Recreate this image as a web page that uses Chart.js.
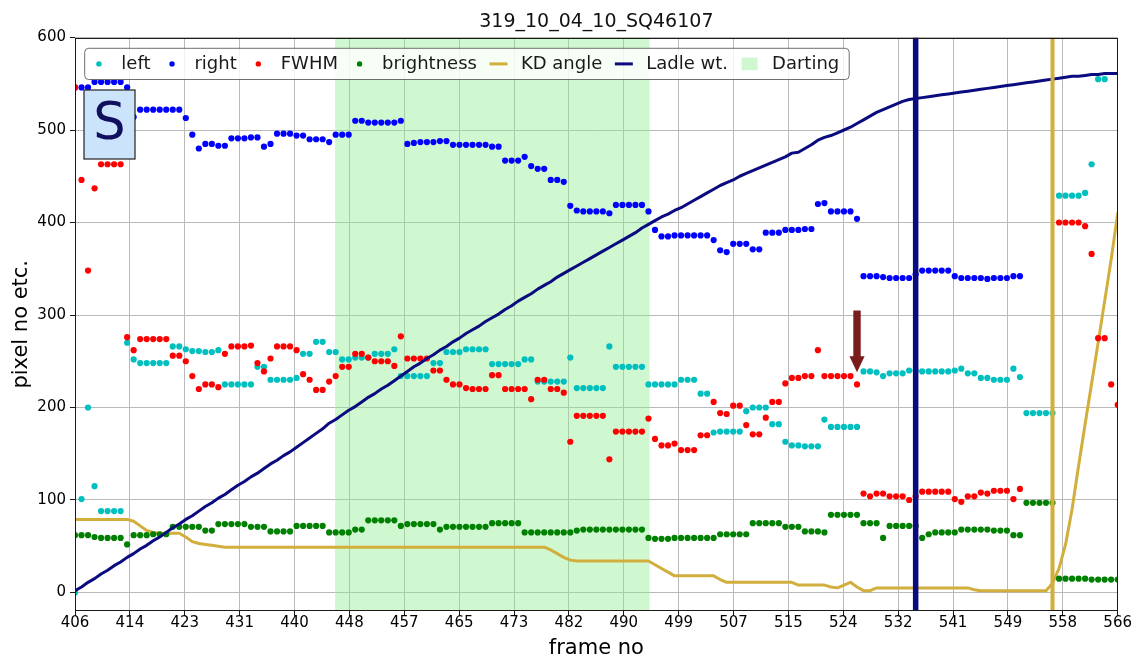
<!DOCTYPE html>
<html>
<head>
<meta charset="utf-8">
<script src="https://cdn.jsdelivr.net/npm/chart.js@4.4.1/dist/chart.umd.min.js"></script>
<style>
  html, body { margin: 0; padding: 0; background: #ffffff; }
  #wrap { width: 1132px; height: 657px; }
</style>
</head>
<body>
<div id="wrap"><canvas id="chart" width="1132" height="657"></canvas></div>
<script>
// ---- frame axis ----
const FIRST_FRAME = 406;
const LAST_FRAME = 566;
const frames = Array.from({ length: LAST_FRAME - FIRST_FRAME + 1 }, (_, i) => FIRST_FRAME + i);
const xTickLabels = [406, 414, 423, 431, 440, 448, 457, 465, 473, 482, 490, 499, 507, 515, 524, 532, 541, 549, 558, 566];
const yTickValues = [0, 100, 200, 300, 400, 500, 600];
const chartTitle = '319_10_04_10_SQ46107';

// ---- per-frame series (one value per frame, 406..566; null = no reading) ----
const leftEdge = [
  0, 101, 200, 115, 88, 88, 88, 88, 270, 252,            // 406
  248, 248, 248, 248, 248, 266, 266, 263, 261, 261,      // 416
  260, 260, 262, 225, 225, 225, 225, 225, 244, 244,      // 426
  230, 230, 230, 230, 232, 258, 258, 271, 271, 260,      // 436
  260, 252, 252, 254, 254, 254, 258, 258, 258, 263,      // 446
  234, 234, 234, 234, 234, 248, 248, 260, 260, 260,      // 456
  263, 263, 263, 263, 247, 247, 247, 247, 247, 252,      // 466
  252, 228, 228, 228, 228, 228, 254, 221, 221, 221,      // 476
  221, 221, 266, 244, 244, 244, 244, 244, 225, 225,      // 486
  225, 225, 225, 230, 230, 230, 215, 215, 173, 174,      // 496
  174, 174, 174, 196, 200, 200, 200, 182, 182, 163,      // 506
  159, 159, 158, 158, 158, 187, 179, 179, 179, 179,      // 516
  179, 239, 239, 238, 234, 237, 237, 237, 240, 240,      // 526
  239, 239, 239, 239, 239, 240, 242, 237, 237, 232,      // 536
  232, 230, 230, 230, 242, 233, 194, 194, 194, 194,      // 546
  194, 429, 429, 429, 429, 432, 463, 555, 555, null,     // 556
  null                                                   // 566
];
const rightEdge = [
  546, 546, 546, 552, 552, 552, 552, 552, 546, 514,
  522, 522, 522, 522, 522, 522, 522, 513, 495, 480,
  485, 485, 483, 483, 491, 491, 491, 492, 492, 482,
  485, 496, 496, 496, 494, 494, 490, 490, 490, 487,
  495, 495, 495, 510, 510, 508, 508, 508, 508, 508,
  510, 485, 486, 487, 487, 487, 488, 488, 484, 484,
  484, 484, 484, 484, 482, 482, 467, 467, 467, 471,
  461, 458, 458, 446, 446, 444, 418, 413, 412, 412,
  412, 412, 410, 419, 419, 419, 419, 419, 412, 392,
  385, 385, 386, 386, 386, 386, 386, 386, 381, 370,
  368, 377, 377, 377, 371, 371, 389, 389, 389, 392,
  392, 392, 393, 393, 420, 421, 412, 412, 412, 412,
  404, 342, 342, 342, 341, 340, 340, 340, 340, 344,
  348, 348, 348, 348, 348, 342, 340, 340, 340, 340,
  339, 340, 340, 340, 342, 342, null, null, null, null,
  null, null, null, null, null, null, null, null, null, null,
  null
];
const fwhm = [
  546, 446, 348, 437, 463, 463, 463, 463, 276, 262,
  274, 274, 274, 274, 274, 256, 256, 250, 234, 220,
  225, 225, 222, 258, 266, 266, 266, 267, 248, 239,
  253, 266, 266, 266, 262, 236, 230, 219, 219, 228,
  234, 244, 244, 258, 258, 254, 250, 250, 250, 245,
  277, 253, 253, 253, 253, 240, 240, 230, 225, 225,
  221, 220, 220, 220, 235, 235, 220, 220, 220, 220,
  209, 230, 230, 220, 220, 216, 163, 191, 191, 191,
  191, 191, 144, 174, 174, 174, 174, 174, 188, 166,
  159, 159, 161, 154, 154, 154, 170, 170, 206, 194,
  193, 202, 202, 181, 171, 171, 189, 206, 206, 226,
  232, 232, 234, 234, 262, 234, 234, 234, 234, 234,
  225, 107, 104, 107, 107, 104, 104, 104, 100, 104,
  109, 109, 109, 109, 109, 101, 98, 104, 104, 108,
  107, 110, 110, 110, 101, 112, null, null, null, null,
  null, 400, 400, 400, 400, 396, 366, 275, 275, 225,
  203
];
const brightness = [
  62, 62, 62, 60, 59, 59, 59, 59, 52, 62,
  62, 62, 63, 63, 63, 71, 71, 71, 71, 71,
  67, 67, 74, 74, 74, 74, 74, 71, 71, 71,
  66, 66, 66, 66, 72, 72, 72, 72, 72, 65,
  65, 65, 65, 68, 68, 78, 78, 78, 78, 78,
  72, 74, 74, 74, 74, 74, 68, 71, 71, 71,
  71, 71, 71, 71, 75, 75, 75, 75, 75, 65,
  65, 65, 65, 65, 65, 65, 65, 67, 68, 68,
  68, 68, 68, 68, 68, 68, 68, 68, 59, 58,
  58, 58, 59, 59, 59, 59, 59, 59, 59, 63,
  63, 63, 63, 63, 75, 75, 75, 75, 75, 71,
  71, 71, 66, 66, 66, 65, 84, 84, 84, 84,
  84, 75, 75, 75, 59, 72, 72, 72, 72, 72,
  59, 63, 65, 65, 65, 65, 68, 68, 68, 68,
  68, 67, 67, 67, 62, 62, 97, 97, 97, 97,
  97, 15, 15, 15, 15, 15, 14, 14, 14, 14,
  14
];
const kdAngle = [
  79, 79, 79, 79, 79, 79, 79, 79, 79, 77,
  72, 67, 65, 64, 64, 64, 64, 60, 55, 53,
  52, 51, 50, 49, 49, 49, 49, 49, 49, 49,
  49, 49, 49, 49, 49, 49, 49, 49, 49, 49,
  49, 49, 49, 49, 49, 49, 49, 49, 49, 49,
  49, 49, 49, 49, 49, 49, 49, 49, 49, 49,
  49, 49, 49, 49, 49, 49, 49, 49, 49, 49,
  49, 49, 49, 46, 42, 38, 35, 34, 34, 34,
  34, 34, 34, 34, 34, 34, 34, 34, 34, 30,
  26, 22, 18, 18, 18, 18, 18, 18, 18, 14,
  11, 11, 11, 11, 11, 11, 11, 11, 11, 11,
  11, 8, 8, 8, 8, 8, 6, 5, 8, 11,
  6, 2, 2, 5, 5, 5, 5, 5, 5, 5,
  5, 5, 5, 5, 5, 5, 5, 5, 3, 2,
  2, 2, 2, 2, 2, 2, 2, 2, 2, 2,
  10, 26, 52, 90, 137, 182, 226, 270, 315, 360,
  410
];
const ladleWt = [
  2, 6, 11, 15, 20, 24, 29, 33, 38, 42,
  47, 51, 56, 60, 65, 70, 74, 79, 83, 88,
  93, 97, 102, 106, 111, 116, 120, 125, 129, 134,
  139, 143, 148, 152, 157, 162, 167, 172, 177, 183,
  187, 192, 197, 201, 206, 211, 215, 220, 224, 229,
  234, 239, 244, 248, 253, 257, 262, 266, 271, 275,
  280, 284, 288, 293, 297, 301, 306, 310, 315, 319,
  323, 328, 332, 336, 341, 345, 349, 353, 357, 361,
  365, 369, 373, 377, 381, 385, 389, 394, 398, 402,
  406, 409, 413, 416, 420, 424, 428, 432, 436, 440,
  443, 446, 450, 453, 456, 459, 462, 465, 468, 471,
  475, 476, 480, 484, 489, 492, 494, 497, 500, 503,
  507, 511, 515, 519, 522, 525, 528, 531, 533, 534,
  535, 536, 537, 538, 539, 540, 541, 542, 543, 544,
  545, 546, 547, 548, 549, 550, 551, 552, 553, 554,
  555, 556, 557, 558, 558, 559, 560, 560, 561, 561,
  561
];

// ---- event markers ----
const dartingFrames = [445.9, 494.2];   // darting period (start, end)
const ladleEventFrame = 535;            // vertical ladle-weight marker
const kdEventFrame = 556;               // vertical KD marker
const arrowMark = { frame: 526, from: 305, to: 238 };
const stageLabel = 'S';

// ---- styling ----
const COLORS = {
  left: '#00bfbf',
  right: '#0000ff',
  fwhm: '#ff0000',
  brightness: '#008000',
  kd: '#d2ae3c',
  ladle: '#0b0b80',
  darting: 'rgba(144, 238, 144, 0.42)',
  arrow: '#7b1c1c'
};
const FONT = '"DejaVu Sans", "Liberation Sans", sans-serif';
Chart.defaults.font.family = FONT;
Chart.defaults.color = '#000';

const toPoints = arr => frames
  .map((f, i) => (arr[i] === null || arr[i] === undefined) ? null : { x: f, y: arr[i] })
  .filter(p => p !== null);

const Y_MIN = -20, Y_MAX = 600;

const dotSet = (label, arr, color, order) => ({
  label, data: toPoints(arr), showLine: false,
  pointRadius: 3.1, pointHoverRadius: 3.1, pointBorderWidth: 0,
  pointBackgroundColor: color, borderColor: color, backgroundColor: color, order
});
const lineSet = (label, arr, color, width, order) => ({
  label, data: toPoints(arr), showLine: true, borderColor: color, backgroundColor: color,
  borderWidth: width, pointRadius: 0, pointHoverRadius: 0, tension: 0,
  borderJoinStyle: 'round', borderCapStyle: 'round', order
});
const vLineSet = (label, frame, color, width, order) => ({
  label, data: [{ x: frame, y: Y_MIN }, { x: frame, y: Y_MAX }], showLine: true,
  borderColor: color, borderWidth: width, pointRadius: 0, pointHoverRadius: 0, order
});

const legendItems = [
  { label: 'left', kind: 'dot', color: COLORS.left },
  { label: 'right', kind: 'dot', color: COLORS.right },
  { label: 'FWHM', kind: 'dot', color: COLORS.fwhm },
  { label: 'brightness', kind: 'dot', color: COLORS.brightness },
  { label: 'KD angle', kind: 'line', color: COLORS.kd },
  { label: 'Ladle wt.', kind: 'line', color: COLORS.ladle },
  { label: 'Darting', kind: 'patch', color: COLORS.darting }
];

// Title, frame, annotations and the in-plot legend
const decorations = {
  id: 'decorations',
  afterDatasetsDraw(chart) {
    const { ctx, chartArea: a, scales: { x, y } } = chart;
    ctx.save();
    // arrow pointing at the FWHM reading
    const ax = x.getPixelForValue(arrowMark.frame);
    const yTop = y.getPixelForValue(arrowMark.from);
    const yTip = y.getPixelForValue(arrowMark.to);
    const headLen = 16, headHalf = 7.6, shaftHalf = 3.7;
    ctx.fillStyle = COLORS.arrow;
    ctx.beginPath();
    ctx.moveTo(ax - shaftHalf, yTop);
    ctx.lineTo(ax + shaftHalf, yTop);
    ctx.lineTo(ax + shaftHalf, yTip - headLen);
    ctx.lineTo(ax + headHalf, yTip - headLen);
    ctx.lineTo(ax, yTip);
    ctx.lineTo(ax - headHalf, yTip - headLen);
    ctx.lineTo(ax - shaftHalf, yTip - headLen);
    ctx.closePath();
    ctx.fill();

    // axes frame
    ctx.strokeStyle = '#1a1a1a';
    ctx.lineWidth = 1;
    ctx.strokeRect(Math.round(a.left) + 0.5, Math.round(a.top) + 0.5,
      Math.round(a.right) - Math.round(a.left) - 1, Math.round(a.bottom) - Math.round(a.top) - 1);

    // stage label box
    const bx = a.left + 9, by = a.top + 52.5, bw = 51, bh = 69;
    ctx.fillStyle = '#cce4fb';
    ctx.fillRect(bx, by, bw, bh);
    ctx.strokeStyle = '#222';
    ctx.lineWidth = 1.2;
    ctx.strokeRect(bx, by, bw, bh);
    ctx.fillStyle = '#10105e';
    ctx.font = '51px ' + FONT;
    ctx.textAlign = 'center';
    ctx.textBaseline = 'middle';
    ctx.fillText(stageLabel, bx + bw / 2, by + bh / 2 + 1);

    // legend
    ctx.font = '18px ' + FONT;
    const lx = a.left + 9.7, ly = a.top + 10.8, lh = 31.2;
    const cy = ly + lh / 2;
    let cx = lx + 5.2;
    const placed = legendItems.map(it => {
      const p = { it, hx: cx };
      cx += 18 + 13.4;
      p.tx = cx;
      cx += ctx.measureText(it.label).width + 12.6;
      return p;
    });
    const lw = cx - 12.6 + 10 - lx;
    const r = 4;
    ctx.beginPath();
    ctx.moveTo(lx + r, ly);
    ctx.arcTo(lx + lw, ly, lx + lw, ly + lh, r);
    ctx.arcTo(lx + lw, ly + lh, lx, ly + lh, r);
    ctx.arcTo(lx, ly + lh, lx, ly, r);
    ctx.arcTo(lx, ly, lx + lw, ly, r);
    ctx.closePath();
    ctx.fillStyle = 'rgba(255,255,255,0.8)';
    ctx.fill();
    ctx.strokeStyle = '#6e6e6e';
    ctx.lineWidth = 1;
    ctx.stroke();
    placed.forEach(({ it, hx, tx }) => {
      if (it.kind === 'dot') {
        ctx.fillStyle = it.color;
        ctx.beginPath();
        ctx.arc(hx + 9, cy, 2.7, 0, Math.PI * 2);
        ctx.fill();
      } else if (it.kind === 'line') {
        ctx.strokeStyle = it.color;
        ctx.lineWidth = 3;
        ctx.lineCap = 'butt';
        ctx.beginPath();
        ctx.moveTo(hx, cy);
        ctx.lineTo(hx + 18, cy);
        ctx.stroke();
      } else {
        ctx.fillStyle = it.color;
        ctx.fillRect(hx + 1, cy - 6.3, 16, 12.6);
      }
      ctx.fillStyle = '#1a1a1a';
      ctx.textAlign = 'left';
      ctx.textBaseline = 'middle';
      ctx.fillText(it.label, tx, cy);
    });

    // title
    ctx.fillStyle = '#111';
    ctx.font = '19px ' + FONT;
    ctx.textAlign = 'center';
    ctx.textBaseline = 'middle';
    ctx.fillText(chartTitle, (a.left + a.right) / 2, 22);
    ctx.restore();
  }
};

new Chart(document.getElementById('chart'), {
  type: 'scatter',
  data: {
    datasets: [
      vLineSet('ladle event', ladleEventFrame, COLORS.ladle, 5.5, 0),
      vLineSet('kd event', kdEventFrame, COLORS.kd, 4, 1),
      lineSet('Ladle wt.', ladleWt, COLORS.ladle, 3, 2),
      dotSet('brightness', brightness, COLORS.brightness, 3),
      dotSet('FWHM', fwhm, COLORS.fwhm, 4),
      dotSet('right', rightEdge, COLORS.right, 5),
      dotSet('left', leftEdge, COLORS.left, 6),
      lineSet('KD angle', kdAngle, COLORS.kd, 3, 7),
      {
        label: 'Darting',
        data: [{ x: dartingFrames[0], y: Y_MAX }, { x: dartingFrames[1], y: Y_MAX }],
        showLine: true, fill: 'start', backgroundColor: COLORS.darting,
        borderWidth: 0, borderColor: 'rgba(0,0,0,0)', pointRadius: 0, pointHoverRadius: 0, order: 9
      }
    ]
  },
  options: {
    responsive: false,
    animation: false,
    devicePixelRatio: 1,
    events: [],
    layout: { padding: { top: 37.5, right: 14, left: 0, bottom: 0 } },
    plugins: {
      legend: { display: false },
      tooltip: { enabled: false },
      title: { display: false }
    },
    scales: {
      x: {
        type: 'linear',
        position: 'bottom',
        min: FIRST_FRAME,
        max: LAST_FRAME,
        afterBuildTicks: scale => {
          const n = xTickLabels.length - 1;
          scale.ticks = xTickLabels.map((_, i) => ({ value: FIRST_FRAME + i * (LAST_FRAME - FIRST_FRAME) / n }));
        },
        afterFit: scale => { scale.height = 46; },
        ticks: {
          autoSkip: false, maxRotation: 0, minRotation: 0,
          padding: 0,
          font: { size: 15, lineHeight: 1.0 },
          color: '#000',
          callback: (value, index) => String(xTickLabels[index])
        },
        grid: { color: '#b9b9b9', lineWidth: 1, drawTicks: true, tickLength: 5, tickColor: '#1a1a1a' },
        border: { display: false },
        title: { display: true, text: 'frame no', color: '#000', font: { size: 21, lineHeight: 1.0 }, padding: { top: 0, bottom: -2 } }
      },
      y: {
        type: 'linear',
        min: Y_MIN,
        max: Y_MAX,
        afterBuildTicks: scale => { scale.ticks = yTickValues.map(v => ({ value: v })); },
        afterFit: scale => { scale.width = 75; },
        ticks: { padding: 4, font: { size: 15 }, color: '#000' },
        grid: { color: '#b9b9b9', lineWidth: 1, drawTicks: true, tickLength: 5, tickColor: '#1a1a1a' },
        border: { display: false },
        title: { display: true, text: 'pixel no etc.', color: '#000', font: { size: 21, lineHeight: 1.0 }, padding: { top: 11.5, bottom: 0 } }
      }
    }
  },
  plugins: [decorations]
});
</script>
</body>
</html>
